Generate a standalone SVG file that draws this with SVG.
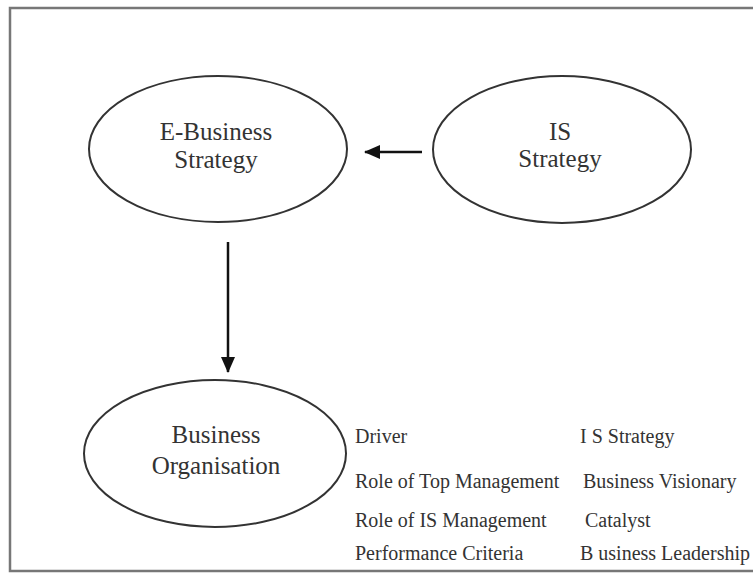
<svg xmlns="http://www.w3.org/2000/svg" width="753" height="573" viewBox="0 0 753 573">
<style>
.node ellipse{fill:#fff;stroke:#333;stroke-width:2}
.big{font-family:"Liberation Serif",serif;font-size:25px;fill:#333;text-anchor:middle}
.small{font-family:"Liberation Serif",serif;font-size:20px;fill:#333}
.conn line{stroke:#111;stroke-width:2.5}
</style>
<defs>
<marker id="ah" viewBox="0 0 16 14" refX="15" refY="7" markerWidth="16" markerHeight="14" markerUnits="userSpaceOnUse" orient="auto">
<path d="M0,0 L16,7 L0,14 Z" fill="#111"/>
</marker>
</defs>
<rect width="753" height="573" fill="#fff"/>
<path d="M753,8 L10,8 L10,571 L753,571" fill="none" stroke="#777" stroke-width="2.5"/>
<g id="ebusiness" class="node">
<ellipse cx="218" cy="149" rx="129" ry="73"/>
<text class="big" x="216" y="140">E-Business</text>
<text class="big" x="216" y="168">Strategy</text>
</g>
<g id="isstrategy" class="node">
<ellipse cx="562" cy="149.5" rx="129" ry="73.5"/>
<text class="big" x="560" y="140">IS</text>
<text class="big" x="560" y="167">Strategy</text>
</g>
<g id="busorg" class="node">
<ellipse cx="215" cy="453.5" rx="131" ry="73.5"/>
<text class="big" x="216" y="443">Business</text>
<text class="big" x="216" y="474">Organisation</text>
</g>
<g id="connectors" class="conn">
<line x1="422" y1="152" x2="365" y2="152" marker-end="url(#ah)"/>
<line x1="228" y1="242" x2="228" y2="372" marker-end="url(#ah)"/>
</g>
<g id="table" class="small">
<text x="355" y="443">Driver</text>
<text x="355" y="488">Role of Top Management</text>
<text x="355" y="527">Role of IS Management</text>
<text x="355" y="560">Performance Criteria</text>
<text x="580" y="443">I S Strategy</text>
<text x="583" y="488">Business Visionary</text>
<text x="585" y="527">Catalyst</text>
<text x="580" y="560">B usiness Leadership</text>
</g>
</svg>
